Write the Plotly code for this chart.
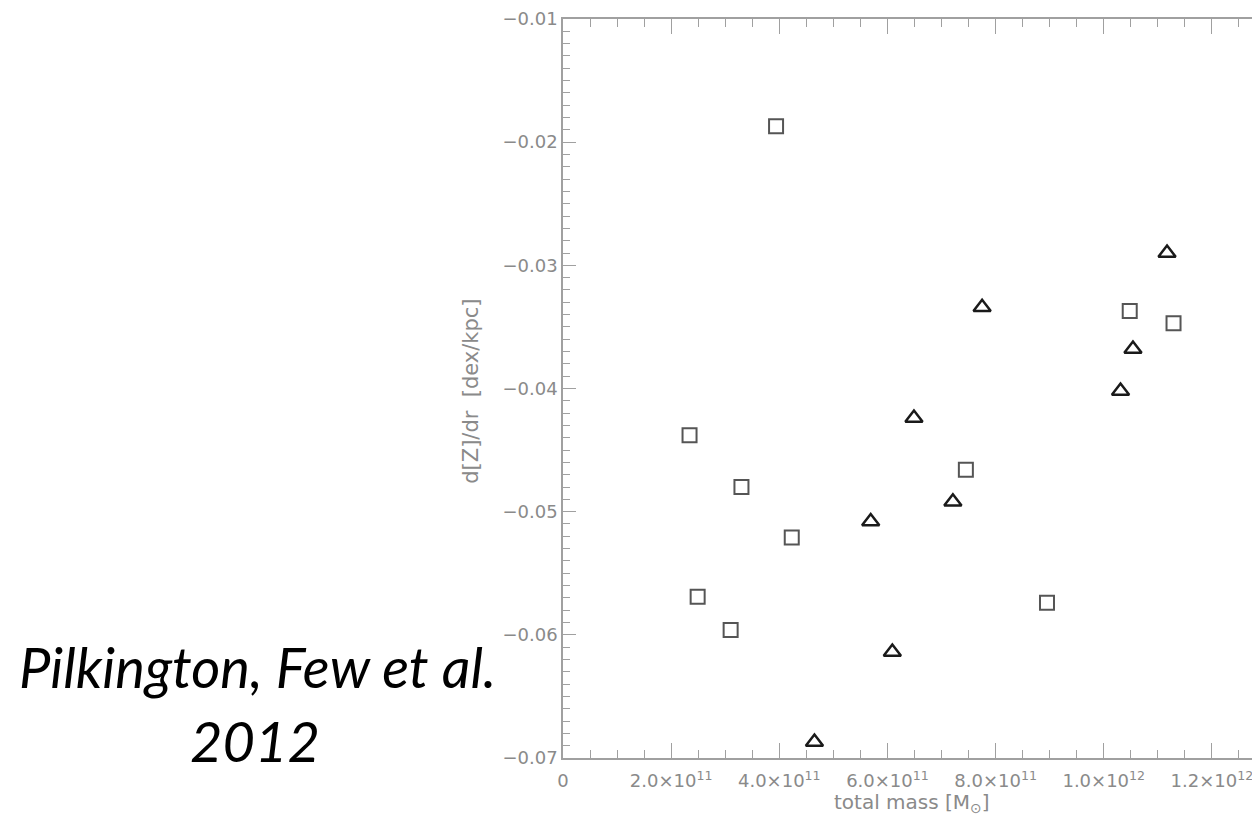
import plotly.graph_objects as go

# ---- data ----
square_mass = [3.94e11, 2.34e11, 3.30e11, 4.23e11, 2.49e11, 3.10e11, 7.45e11, 8.95e11, 1.048e12, 1.129e12]
square_grad = [-0.0187, -0.0438, -0.0480, -0.0521, -0.0569, -0.0596, -0.0466, -0.0574, -0.0337, -0.0347]

tri_mass = [4.65e11, 6.09e11, 5.69e11, 6.49e11, 7.21e11, 7.75e11, 1.031e12, 1.054e12, 1.117e12]
tri_grad = [-0.0687, -0.0614, -0.0508, -0.0424, -0.0492, -0.0334, -0.0402, -0.0368, -0.0290]

x_tickvals = [0, 2e11, 4e11, 6e11, 8e11, 1.0e12, 1.2e12]
x_ticktext = ["0", "2.0×10<sup>11</sup>", "4.0×10<sup>11</sup>", "6.0×10<sup>11</sup>",
              "8.0×10<sup>11</sup>", "1.0×10<sup>12</sup>", "1.2×10<sup>12</sup>"]
y_tickvals = [-0.07, -0.06, -0.05, -0.04, -0.03, -0.02, -0.01]
y_ticktext = ["−0.07", "−0.06", "−0.05", "−0.04", "−0.03", "−0.02", "−0.01"]

AX = "#a0a0a0"
TXT = "#8a8a8a"
FONT = "DejaVu Sans"

# page body has an 8 px margin: plot area spans x 563..1268, y 14..758 on screen
L, R_EDGE, TOP, BOT = 563, 1268, 14, 758
PW, PH = R_EDGE - L, BOT - TOP


def px(x):
    return (x - L) / PW


def py(y):
    return (BOT - y) / PH


fig = go.Figure()
fig.add_trace(go.Scatter(
    x=square_mass, y=square_grad, mode="markers",
    marker=dict(symbol="square-open", size=14, color="#555555", line=dict(width=2, color="#555555")),
    showlegend=False, hoverinfo="skip"))
fig.add_trace(go.Scatter(
    x=tri_mass, y=tri_grad, mode="markers",
    marker=dict(symbol="triangle-up-open", size=15, color="#1a1a1a", line=dict(width=2.5, color="#1a1a1a")),
    showlegend=False, hoverinfo="skip"))

fig.update_layout(
    width=1260, height=820,
    margin=dict(l=L - 8, r=0, t=TOP - 8, b=820 + 8 - BOT, pad=0),
    paper_bgcolor="white", plot_bgcolor="white",
    font=dict(family=FONT, color=TXT, size=18),
    xaxis=dict(
        range=[0, 1.3e12], showgrid=False, zeroline=False,
        showline=True, linecolor=AX, linewidth=1.5, mirror="allticks",
        ticks="inside", ticklen=15, tickwidth=1.3, tickcolor=AX,
        tickvals=x_tickvals, ticktext=x_ticktext, ticklabelstandoff=6,
        ticklabeloverflow="allow",
        tickfont=dict(family=FONT, size=18, color=TXT),
        minor=dict(dtick=5e10, tick0=0, ticks="inside", ticklen=8, tickwidth=1.3, tickcolor=AX, showgrid=False),
    ),
    yaxis=dict(
        range=[-0.07, -0.01], showgrid=False, zeroline=False,
        showline=True, linecolor=AX, linewidth=1.5, mirror="allticks",
        ticks="inside", ticklen=13, tickwidth=1.3, tickcolor=AX,
        tickvals=y_tickvals, ticktext=y_ticktext,
        ticklabeloverflow="allow",
        tickfont=dict(family=FONT, size=18, color=TXT),
        minor=dict(dtick=0.001, tick0=-0.07, ticks="inside", ticklen=7, tickwidth=1.3, tickcolor=AX, showgrid=False),
    ),
    annotations=[
        dict(text="total mass [M<sub>⊙</sub>]", xref="paper", yref="paper",
             x=px(913), y=py(803), xanchor="center", yanchor="middle",
             showarrow=False, font=dict(family=FONT, size=20, color=TXT)),
        dict(text="d[Z]/dr  [dex/kpc]", xref="paper", yref="paper", textangle=-90,
             x=px(471), y=py(389), xanchor="center", yanchor="middle",
             showarrow=False, font=dict(family=FONT, size=21, color=TXT)),
        dict(text="Pilkington, Few et al.", xref="paper", yref="paper",
             x=px(257), y=py(666), xanchor="center", yanchor="middle",
             showarrow=False, font=dict(family="Lato", size=56, style="italic", color="black")),
        dict(text="2012", xref="paper", yref="paper",
             x=px(254), y=py(740), xanchor="center", yanchor="middle",
             showarrow=False, font=dict(family="Lato", size=56, style="italic", color="black")),
    ],
)

fig.write_html("out.html")
